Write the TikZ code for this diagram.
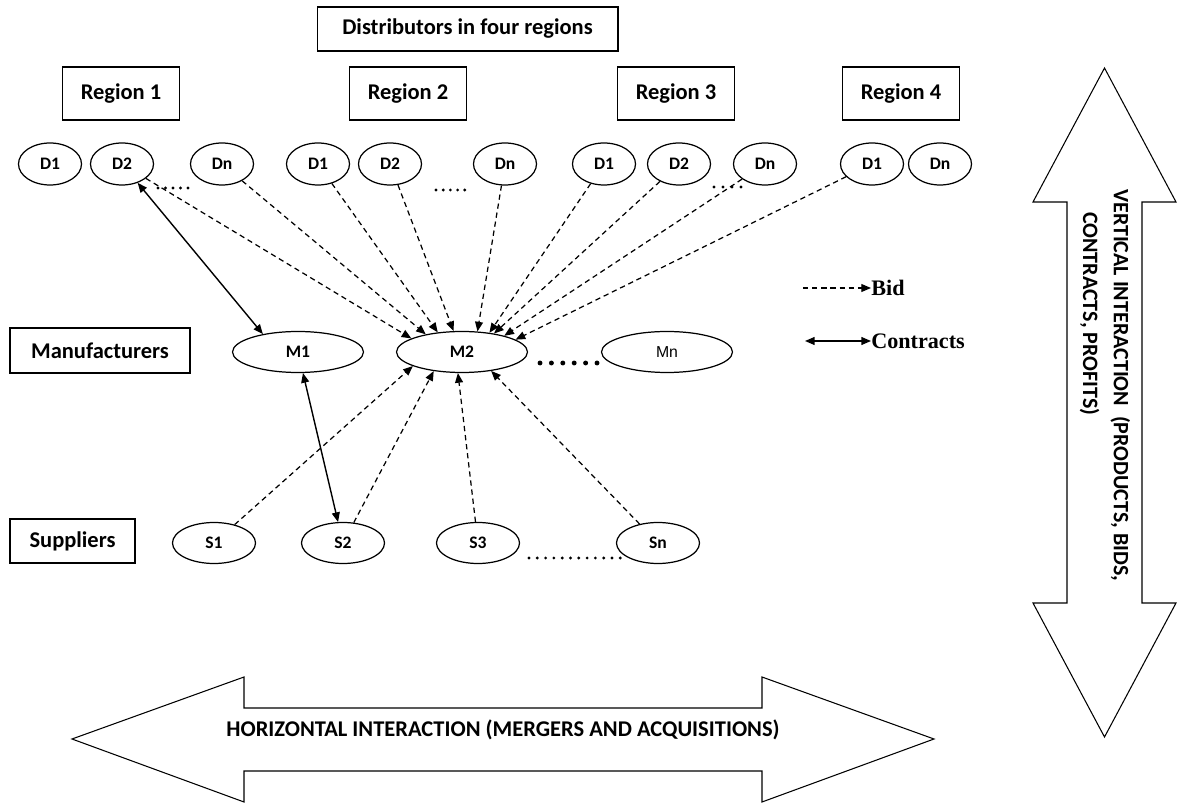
\documentclass[tikz,border=0pt]{standalone}
\usepackage{fontspec}
\setmainfont{Carlito}
\newfontfamily\keyfont{Liberation Serif}
\newfontfamily\arialfont{Liberation Sans}
\usetikzlibrary{shapes.geometric,arrows.meta}

\tikzset{
  labelbox/.style={draw, line width=0.6pt, inner sep=0pt, font=\fontsize{12.8}{15}\selectfont\bfseries},
  agent/.style={draw, ellipse, line width=0.7pt, inner sep=0pt, font=\fontsize{10}{12}\selectfont\bfseries},
  dagent/.style={agent, minimum width=1.26cm, minimum height=0.84cm},
  magent/.style={agent, minimum width=2.62cm, minimum height=0.82cm},
  sagent/.style={agent, minimum width=1.66cm, minimum height=0.82cm},
  bid/.style={line width=0.7pt, dash pattern=on 3pt off 2.2pt, -{Triangle[length=5.5pt,width=4.5pt]}},
  contract/.style={line width=0.8pt, {Triangle[length=5.5pt,width=4.5pt]}-{Triangle[length=5.5pt,width=4.5pt]}},
  bigarrow/.style={draw, line width=0.6pt, line join=miter},
  keytext/.style={font=\keyfont\fontsize{12.6}{14}\selectfont\bfseries, anchor=west, inner sep=0pt}
}

\begin{document}
\begin{tikzpicture}[x=0.02cm, y=-0.02cm]
\useasboundingbox (0,0) rectangle (1177,803);

% headings
\node [labelbox, minimum width=6.02cm, minimum height=0.88cm] (dist) at (467.5,29) {Distributors in four regions};
\foreach \r/\x in {1/121, 2/408, 3/676, 4/901}
  \node [labelbox, minimum width=2.34cm, minimum height=1.06cm] (reg\r) at (\x,93.5) {Region \r};
\node [labelbox, minimum width=3.6cm, minimum height=0.9cm] (manu) at (100,350.5) {Manufacturers};
\node [labelbox, minimum width=2.5cm, minimum height=0.88cm] (supp) at (72.5,541) {Suppliers};

% distributors
\foreach \n/\t/\x in {r1d1/D1/50, r1d2/D2/122, r1dn/Dn/222, r2d1/D1/318, r2d2/D2/390, r2dn/Dn/505,
                      r3d1/D1/604, r3d2/D2/679, r3dn/Dn/765, r4d1/D1/872, r4dn/Dn/940}
  \node [dagent] (\n) at (\x,164) {\t};

% manufacturers
\node [magent] (m1) at (298,352) {M1};
\node [magent] (m2) at (462,352) {M2};
\node [magent, font=\arialfont\fontsize{9}{11}\selectfont] (mn) at (667,352) {Mn};

% suppliers
\foreach \n/\x in {1/214, 2/343, 3/478, n/658}
  \node [sagent] (s\n) at (\x,543) {S\n};

% dots
\foreach \i in {0,...,4} \fill ({158+7.5*\i},188) circle [radius=0.9pt];
\foreach \i in {0,...,4} \fill ({436+7.2*\i},190) circle [radius=0.9pt];
\foreach \i in {0,...,3} \fill ({714+9*\i},187) circle [radius=0.9pt];
\foreach \i in {0,...,5} \fill ({540+11.4*\i},363) circle [radius=1.4pt];
\foreach \i in {0,...,11} \fill ({529+8.3*\i},558) circle [radius=0.9pt];

% bids
\foreach \from/\ang in {r1d2/165, r1dn/154, r2d1/141, r2d2/112, r2dn/53, r3d1/35, r3d2/30, r3dn/21, r4d1/13}
  \draw [bid] (\from) -- (m2.\ang);
\foreach \from/\ang in {s1/196, s2/214, s3/259, sn/327}
  \draw [bid] (\from) -- (m2.\ang);

% contracts
\draw [contract] (r1d2) -- (m1.153);
\draw [contract] (m1) -- (s2);

% key
\node [keytext] (bidkey) at (871,288) {Bid};
\coordinate (bidtail) at (803,288);
\draw [bid] (bidtail) -- (bidkey.west);
\node [keytext] (dealkey) at (871,341) {Contracts};
\coordinate (dealtail) at (805,341);
\draw [contract] (dealtail) -- (dealkey.west);

% horizontal interaction
\draw [bigarrow] (72,739) -- (244,677) -- (244,708) -- (762,708) -- (762,677) -- (934,739)
  -- (762,802) -- (762,771) -- (244,771) -- (244,802) -- cycle;
\node [inner sep=0pt, font=\fontsize{12.8}{15}\selectfont\bfseries] (horiz) at (503,730) {HORIZONTAL INTERACTION (MERGERS AND ACQUISITIONS)};

% vertical interaction
\draw [bigarrow] (1104.5,68) -- (1176,202) -- (1142,202) -- (1142,603) -- (1176,603) -- (1104.5,737)
  -- (1033,603) -- (1067,603) -- (1067,202) -- (1033,202) -- cycle;
\node [inner sep=0pt, rotate=-90, anchor=west, align=left, font=\fontsize{12.5}{17.6}\selectfont\bfseries] (vert) at (1105,189)
  {VERTICAL INTERACTION~~(PRODUCTS, BIDS,\\\hspace*{13pt}CONTRACTS, PROFITS)};

\end{tikzpicture}
\end{document}
